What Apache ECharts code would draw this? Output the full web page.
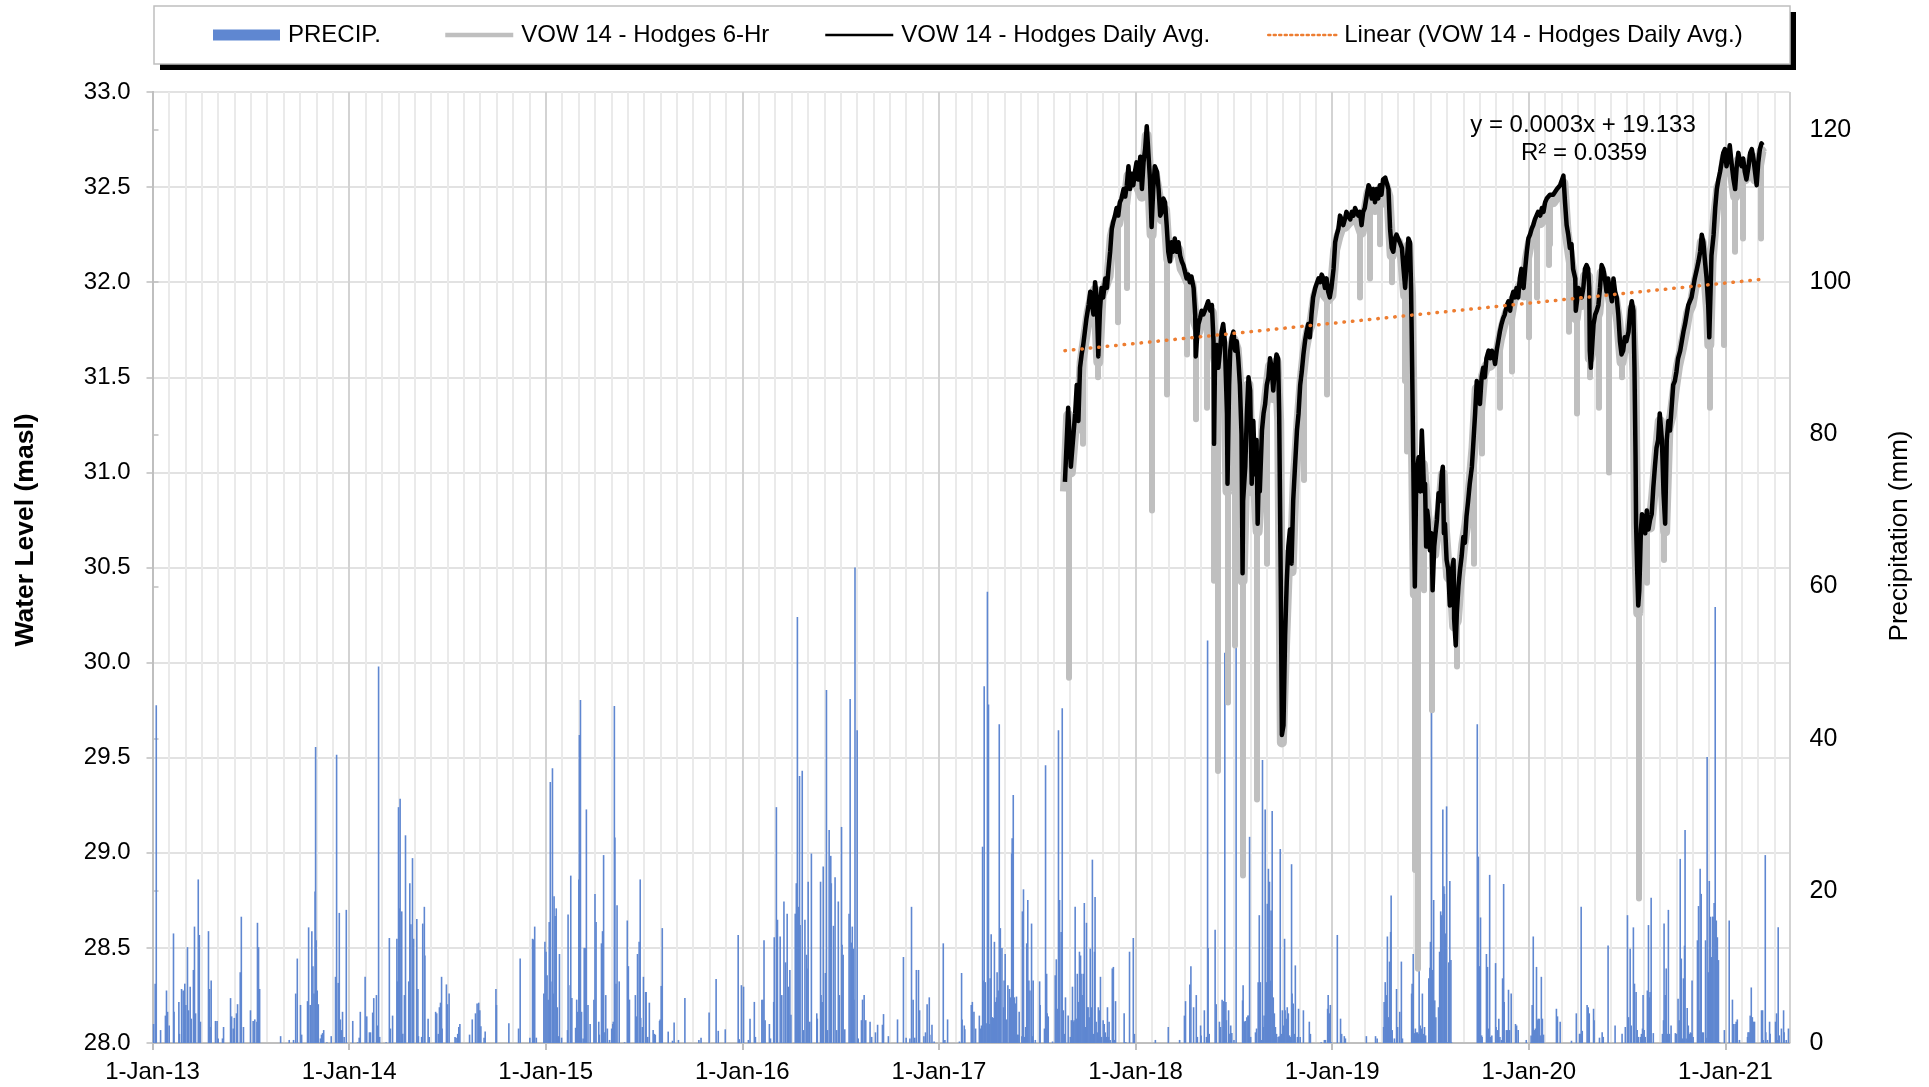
<!DOCTYPE html>
<html><head><meta charset="utf-8">
<script src="https://cdn.jsdelivr.net/npm/echarts@6/dist/echarts.min.js"></script>
<style>html,body{margin:0;padding:0;background:#fff}#c{width:1929px;height:1087px}</style>
</head><body><div id="c"></div>
<script>
// x values are day numbers counted from 1-Jan-2013 (day 0)
const yearLabels = ['1-Jan-13','1-Jan-14','1-Jan-15','1-Jan-16','1-Jan-17','1-Jan-18','1-Jan-19','1-Jan-20','1-Jan-21'];
const dayMax = 3041; // 30-Apr-21

// Daily precipitation (mm): [day, mm]
const precip = [
[2,2.5],[5,7.8],[7,44.4],[15,1.7],[24,3.6],[26,6.9],[28,4.1],[31,2.3],[39,14.4],[40,4.1],[49,5.4],[50,1.2],[54,7.1],[57,6.9],[60,7.8],[62,5.0],[65,12.6],[67,4.3],[70,7.4],[72,3.2],[76,9.6],[78,15.3],[80,3.9],[85,21.5],[87,14.2],[89,2.8],[104,14.7],[106,7.1],[107,2.1],[109,8.2],[117,2.9],[120,2.9],[122,0.6],[130,0.6],[132,2.1],[145,5.9],[147,3.5],[150,1.9],[152,3.3],[156,3.9],[158,5.1],[163,9.3],[165,16.6],[169,2.1],[182,4.3],[187,2.9],[190,3.1],[194,2.8],[195,15.8],[197,12.6],[199,7.1],[238,0.9],[254,0.4],[262,0.4],[266,6.5],[269,11.1],[275,5.0],[277,1.1],[288,5.5],[290,15.2],[293,5.0],[296,14.7],[298,10.1],[300,6.5],[302,19.9],[303,38.9],[304,13.5],[306,6.9],[308,5.1],[312,0.6],[314,1.1],[316,1.3],[318,1.7],[324,0.1],[332,0.9],[340,8.7],[342,37.9],[345,7.9],[347,17.1],[349,3.1],[351,1.7],[353,4.1],[356,0.8],[360,17.5],[372,2.9],[381,0.1],[384,0.7],[386,4.1],[395,8.7],[398,3.5],[403,1.4],[405,1.4],[409,4.0],[411,5.9],[416,6.3],[418,2.3],[420,49.5],[422,0.8],[434,0.1],[440,13.8],[442,1.9],[446,3.6],[454,13.7],[455,8.1],[457,31.0],[459,17.7],[460,32.1],[463,17.3],[465,1.2],[468,6.3],[470,27.3],[476,8.1],[478,21.0],[480,15.6],[483,24.3],[485,13.7],[491,16.3],[493,7.1],[494,0.9],
[500,0.8],[502,15.7],[505,17.9],[506,11.5],[512,3.2],[514,0.8],[526,4.1],[528,3.9],[531,1.2],[533,4.7],[535,5.3],[537,8.7],[538,1.9],[546,7.7],[548,5.1],[551,6.5],[562,0.8],[564,0.7],[567,1.2],[569,2.1],[571,2.5],[589,1.1],[594,3.1],[600,3.9],[603,5.2],[606,5.3],[608,4.3],[610,2.2],[616,0.7],[618,1.5],[638,7.1],[639,5.0],[662,2.6],[680,1.9],[683,11.1],[701,0.7],[706,13.7],[708,13.6],[710,15.3],[713,0.7],[727,6.5],[729,13.3],[731,12.0],[733,8.9],[735,5.7],[737,15.9],[739,34.3],[740,8.1],[743,36.1],[745,6.5],[746,19.3],[748,16.7],[750,17.7],[752,4.7],[754,0.9],[756,11.7],[760,0.7],[771,1.7],[772,16.9],[776,7.6],[777,22.0],[779,5.9],[786,2.0],[788,5.7],[790,4.1],[792,21.5],[793,40.5],[795,45.1],[797,4.1],[800,0.6],[802,12.5],[804,12.5],[806,30.7],[809,5.0],[813,2.5],[820,5.7],[822,19.6],[824,15.9],[829,2.8],[830,1.1],[834,13.1],[836,14.7],[838,24.7],[839,1.4],[842,6.3],[845,1.9],[849,0.4],[853,1.9],[855,2.5],[856,2.8],[858,44.3],[859,27.0],[861,7.8],[863,18.1],[867,8.1],[877,0.1],[882,16.1],[884,10.1],[886,5.7],[897,6.3],[899,3.5],[901,11.7],[904,13.3],[906,21.5],[907,3.3],[910,2.1],[912,8.7],[916,6.7],[917,6.7],[920,0.8],[923,5.3],[930,1.7],[932,1.2],[934,1.1],[942,2.9],[943,3.1],[945,7.5],[947,15.1],[958,1.5],[966,0.3],[969,2.7],[977,0.4],[989,5.9],[1015,0.4],
[1019,0.7],[1034,4.0],[1047,8.4],[1051,1.6],[1064,1.8],[1088,14.2],[1090,0.5],[1094,7.6],[1098,7.4],[1107,0.4],[1110,3.2],[1118,5.4],[1120,0.8],[1132,5.7],[1134,5.7],[1136,13.5],[1138,3.0],[1146,2.5],[1148,0.6],[1154,5.4],[1155,13.9],[1159,31.0],[1161,16.2],[1166,14.0],[1169,6.3],[1173,18.6],[1176,10.6],[1179,17.0],[1181,7.4],[1184,9.6],[1186,3.7],[1194,17.0],[1196,21.0],[1198,56.0],[1200,17.9],[1202,35.1],[1203,15.5],[1207,35.8],[1209,1.7],[1212,16.2],[1215,11.6],[1216,9.8],[1218,21.2],[1221,2.8],[1224,24.9],[1234,3.9],[1235,3.2],[1241,21.2],[1242,6.3],[1244,5.4],[1246,23.2],[1250,9.2],[1252,46.4],[1254,1.7],[1257,28.0],[1260,24.6],[1261,21.0],[1265,15.4],[1268,21.8],[1271,1.7],[1274,18.6],[1276,6.3],[1280,28.4],[1281,12.9],[1283,11.6],[1286,1.8],[1294,17.0],[1296,45.2],[1298,13.2],[1300,15.3],[1302,12.4],[1303,5.7],[1305,62.5],[1309,41.1],[1311,0.6],[1317,3.0],[1319,5.7],[1322,6.3],[1325,3.0],[1333,2.8],[1336,0.8],[1343,1.4],[1347,2.4],[1356,2.4],[1358,3.8],[1367,0.9],[1384,3.1],[1395,11.3],[1400,0.7],[1407,0.6],[1410,17.9],[1413,5.7],[1416,0.7],[1419,9.6],[1423,9.6],[1425,4.3],[1433,0.9],[1436,1.4],[1439,5.1],[1443,6.0],[1444,1.1],[1448,2.4],[1452,0.2],[1469,13.1],[1472,0.4],[1477,3.1],[1499,0.2],
[1503,9.2],[1504,3.1],[1508,2.3],[1509,1.8],[1521,5.0],[1523,5.4],[1526,4.1],[1529,1.9],[1536,3.6],[1538,1.9],[1540,2.3],[1542,25.8],[1543,8.2],[1545,46.9],[1547,8.0],[1550,2.6],[1551,59.3],[1553,44.5],[1555,2.5],[1556,8.5],[1558,14.3],[1560,3.4],[1562,3.3],[1564,13.3],[1566,5.4],[1568,6.0],[1569,9.3],[1571,6.9],[1573,41.9],[1575,15.1],[1578,12.5],[1581,4.7],[1582,8.2],[1584,11.7],[1586,3.1],[1589,7.6],[1592,7.1],[1594,6.0],[1596,24.9],[1597,26.9],[1599,32.6],[1601,6.0],[1603,5.2],[1605,6.1],[1607,1.1],[1608,1.1],[1610,4.1],[1615,0.9],[1616,17.3],[1618,20.2],[1620,0.8],[1622,2.1],[1624,13.1],[1626,18.8],[1628,8.2],[1630,6.9],[1633,15.7],[1635,0.9],[1636,8.2],[1640,0.4],[1648,8.1],[1649,5.0],[1657,1.9],[1659,36.5],[1661,9.1],[1662,3.9],[1664,3.5],[1672,0.2],[1677,8.9],[1679,11.0],[1681,4.5],[1683,41.1],[1685,18.8],[1688,14.6],[1690,44.0],[1692,4.3],[1694,1.2],[1696,6.0],[1701,3.6],[1705,0.8],[1707,3.0],[1709,7.4],[1711,2.8],[1712,3.0],[1714,17.9],[1716,3.2],[1718,9.1],[1720,5.4],[1722,12.0],[1724,11.5],[1725,9.1],[1727,6.3],[1729,9.1],[1731,18.4],[1733,2.1],[1735,15.8],[1737,4.7],[1738,4.7],[1740,3.4],[1742,12.4],[1744,4.7],[1746,24.1],[1748,1.2],[1750,12.0],[1751,19.2],[1753,2.8],[1755,1.4],[1757,4.7],[1759,4.3],[1761,8.7],[1763,0.8],[1766,3.0],[1768,2.5],[1770,1.4],[1772,0.8],[1774,4.7],[1776,0.8],[1777,2.8],[1779,0.4],[1783,9.8],[1785,10.0],[1787,0.4],[1789,5.5],[1805,3.9],[1808,0.1],[1815,12.0],[1822,13.8],[1824,1.2],[1863,0.4],[1887,2.1],[1908,0.4],[1917,3.6],[1919,5.5],[1927,7.7],[1929,10.1],[1934,4.7],[1939,6.3],[1941,0.8],[1947,2.3],[1948,1.0],[1954,4.3],[1958,0.8],[1960,52.9],[1961,12.5],[1963,1.2],[1974,14.9],[1976,5.1],[1982,2.8],[1984,2.1],[1987,5.7],[1990,5.5],[1992,51.3],[1994,5.4],[1995,3.0],[1999,4.3],[2000,1.2],[2003,2.3],[2005,1.3],[2009,0.4],[2013,52.1],
[2025,5.6],[2026,7.6],[2028,2.8],[2030,2.9],[2033,3.4],[2035,3.6],[2036,3.6],[2038,27.1],[2040,0.8],[2049,1.4],[2051,1.9],[2054,8.0],[2056,16.8],[2058,8.0],[2060,0.4],[2062,37.2],[2064,2.1],[2065,3.6],[2067,30.7],[2069,8.0],[2071,18.3],[2073,22.9],[2075,21.2],[2077,8.2],[2078,17.4],[2080,30.5],[2082,6.0],[2084,3.9],[2086,2.1],[2088,1.2],[2091,0.8],[2093,0.9],[2095,25.5],[2097,1.2],[2099,4.3],[2101,2.3],[2103,13.7],[2104,4.3],[2106,3.2],[2108,4.7],[2110,3.9],[2112,1.0],[2114,0.8],[2116,23.5],[2117,6.5],[2119,5.2],[2121,1.2],[2123,10.2],[2127,0.8],[2129,4.5],[2132,0.8],[2138,4.3],[2149,2.8],[2151,1.2],[2171,0.1],[2177,0.4],[2179,0.4],[2183,4.5],[2184,6.3],[2186,3.9],[2188,5.0],[2190,0.1],[2201,14.2],[2207,3.2],[2209,1.2],[2214,0.9],[2216,0.6],[2255,0.9],[2272,0.9],[2275,0.6],[2287,2.1],[2288,5.4],[2290,8.0],[2292,6.3],[2294,14.0],[2296,3.4],[2298,10.7],[2300,14.6],[2301,19.4],[2303,1.7],[2307,0.6],[2311,7.1],[2313,2.1],[2317,4.1],[2320,10.7],[2322,0.6],[2339,6.5],[2340,7.8],[2342,11.7],[2344,1.3],[2346,1.9],[2348,1.4],[2350,1.4],[2352,1.2],[2353,9.5],[2355,2.3],[2357,1.9],[2359,6.5],[2361,1.2],[2363,2.1],[2365,1.0],[2371,8.5],[2373,9.9],[2374,13.3],[2376,43.7],[2378,9.6],[2380,18.8],[2382,5.6],[2384,3.4],[2389,4.7],[2391,12.0],[2393,17.3],[2395,16.8],[2397,30.7],[2399,20.6],[2400,19.6],[2402,14.4],[2404,31.1],[2406,0.1],[2408,10.6],[2410,21.3],[2412,10.9],[2413,0.1],[2461,41.9],[2463,24.5],[2465,10.1],[2467,16.5],[2469,1.0],[2470,0.8],[2478,11.7],[2480,10.0],[2482,1.9],[2484,22.1],[2486,0.8],[2488,1.0],[2495,10.5],[2496,2.1],[2499,1.7],[2501,3.2],[2503,0.8],[2506,0.4],
[2508,8.5],[2510,20.9],[2511,5.4],[2515,1.7],[2517,1.7],[2519,7.0],[2521,1.7],[2524,6.5],[2532,2.5],[2534,2.3],[2537,1.7],[2552,0.4],[2561,1.0],[2563,5.0],[2565,14.0],[2567,1.7],[2569,1.9],[2571,10.0],[2573,3.0],[2574,3.2],[2576,3.2],[2578,1.0],[2580,8.7],[2582,3.2],[2584,1.1],[2608,4.5],[2610,3.5],[2615,2.8],[2636,0.3],[2645,3.9],[2651,1.2],[2652,1.2],[2654,17.9],[2656,1.6],[2665,5.0],[2667,4.7],[2669,3.9],[2677,4.5],[2678,3.0],[2688,0.7],[2693,1.4],[2695,0.8],[2704,12.8],[2717,2.3],[2730,1.2],[2736,2.1],[2740,16.8],[2742,3.4],[2745,12.4],[2747,2.3],[2751,15.2],[2753,7.8],[2756,6.7],[2758,1.7],[2760,0.8],[2764,0.8],[2766,1.2],[2768,1.9],[2769,6.3],[2771,1.7],[2773,0.8],[2777,6.9],[2779,15.5],[2781,6.0],[2782,6.7],[2784,19.1],[2788,1.3],[2805,1.2],[2807,3.0],[2808,15.7],[2810,6.3],[2812,9.8],[2814,1.2],[2816,17.5],[2818,1.2],[2821,2.3],[2829,1.3],[2831,1.2],[2834,5.8],[2836,3.0],[2838,24.2],[2840,11.1],[2842,0.6],[2844,8.5],[2846,12.8],[2847,28.0],[2849,0.6],[2851,4.6],[2853,2.3],[2855,1.2],[2857,1.4],[2859,1.3],[2860,8.2],[2862,0.8],[2870,13.5],[2872,18.0],[2873,4.3],[2875,22.9],[2877,19.6],[2879,1.4],[2881,1.4],[2885,13.5],[2886,0.7],[2888,37.6],[2890,9.3],[2892,21.3],[2894,16.6],[2896,11.3],[2898,16.6],[2899,16.6],[2901,18.4],[2903,57.3],[2905,16.1],[2907,13.9],[2909,10.9],[2911,0.1],[2920,1.7],[2929,16.1],[2935,5.7],[2937,2.5],[2940,2.5],[2942,2.8],[2944,3.1],[2948,0.4],[2963,0.8],[2964,1.4],[2966,1.4],[2968,3.6],[2970,7.3],[2972,3.4],[2974,2.8],[2976,2.8],[2989,4.3],[2991,4.3],[2992,0.4],[2996,24.7],[2997,1.4],[3000,0.4],[3004,2.8],[3005,1.2],[3015,2.8],[3017,3.9],[3018,0.4],[3020,15.2],[3022,1.0],[3026,1.9],[3030,4.3],[3031,1.4],[3035,0.4],[3039,1.9]
];

// VOW 14 - Hodges Daily Avg. water level (masl): [day, level]
const dailyAvg = [
[1695,30.95],[1701,31.34],[1706,31.03],[1714,31.31],[1717,31.46],[1720,31.27],[1723,31.55],[1726,31.62],[1729,31.67],[1732,31.74],[1735,31.81],[1739,31.88],[1742,31.95],[1745,31.96],[1748,31.83],[1751,32.00],[1754,31.92],[1757,31.61],[1760,31.85],[1763,31.97],[1766,31.92],[1770,32.02],[1773,31.97],[1776,32.07],[1779,32.16],[1782,32.28],[1785,32.32],[1788,32.35],[1791,32.39],[1794,32.35],[1797,32.42],[1800,32.44],[1804,32.49],[1807,32.45],[1810,32.51],[1813,32.61],[1816,32.49],[1819,32.57],[1822,32.51],[1825,32.58],[1828,32.63],[1831,32.54],[1835,32.66],[1838,32.49],[1841,32.63],[1844,32.70],[1847,32.82],[1850,32.68],[1853,32.54],[1856,32.29],[1859,32.49],[1862,32.61],[1866,32.58],[1869,32.49],[1872,32.35],[1875,32.37],[1878,32.44],[1881,32.42],[1884,32.30],[1887,32.16],[1890,32.11],[1893,32.21],[1896,32.16],[1899,32.23],[1903,32.16],[1906,32.21],[1909,32.14],[1912,32.11],[1915,32.09],[1918,32.08],[1921,32.02],[1924,32.04],[1927,32.00],[1930,32.03],[1934,31.97],[1937,31.83],[1938,31.61],[1940,31.69],[1943,31.78],[1946,31.81],[1949,31.85],[1952,31.83],[1955,31.85],[1958,31.86],[1961,31.90],[1965,31.85],[1968,31.88],[1971,31.69],[1972,31.15],[1974,31.64],[1977,31.67],[1980,31.55],[1983,31.64],[1986,31.74],[1989,31.78],[1992,31.69],[1996,31.31],[1997,30.94],[2000,31.46],[2002,31.64],[2005,31.71],[2008,31.74],[2011,31.64],[2014,31.69],[2017,31.60],[2020,31.46],[2023,31.20],[2025,30.47],[2026,30.85],[2030,31.03],[2033,31.31],[2036,31.50],[2039,31.43],[2042,30.94],[2045,31.27],[2048,30.99],[2051,31.17],[2053,30.73],[2056,31.08],[2057,30.90],[2061,31.22],[2064,31.31],[2067,31.36],[2070,31.46],[2073,31.50],[2076,31.60],[2079,31.55],[2082,31.43],[2085,31.55],[2088,31.62],[2091,31.60],[2093,31.31],[2096,30.40],[2098,29.62],[2101,29.67],[2104,30.14],[2107,30.42],[2110,30.61],[2113,30.70],[2116,30.52],[2119,30.85],[2122,31.01],[2126,31.22],[2129,31.31],[2132,31.46],
[2135,31.53],[2138,31.62],[2141,31.69],[2144,31.74],[2147,31.78],[2150,31.71],[2153,31.83],[2156,31.92],[2160,31.97],[2163,31.97],[2166,32.02],[2169,32.00],[2172,32.04],[2175,32.02],[2178,31.97],[2181,32.02],[2184,31.95],[2187,31.92],[2190,31.97],[2194,32.07],[2197,32.21],[2200,32.25],[2203,32.28],[2206,32.35],[2209,32.33],[2212,32.30],[2215,32.33],[2218,32.37],[2221,32.35],[2225,32.33],[2228,32.37],[2231,32.35],[2234,32.39],[2237,32.37],[2240,32.35],[2243,32.37],[2246,32.30],[2249,32.37],[2252,32.39],[2256,32.46],[2259,32.51],[2262,32.49],[2265,32.44],[2268,32.49],[2271,32.42],[2274,32.49],[2277,32.44],[2280,32.51],[2283,32.46],[2286,32.54],[2290,32.55],[2293,32.56],[2296,32.49],[2299,32.28],[2302,32.18],[2305,32.16],[2308,32.23],[2311,32.25],[2314,32.25],[2317,32.21],[2321,32.18],[2324,32.07],[2327,31.97],[2330,32.11],[2333,32.23],[2336,32.21],[2338,31.97],[2340,31.55],[2342,31.08],[2344,30.61],[2345,30.40],[2347,30.85],[2348,30.99],[2352,31.08],[2355,30.90],[2358,31.22],[2360,31.08],[2362,30.90],[2364,30.94],[2366,30.61],[2368,30.80],[2370,30.75],[2373,30.59],[2376,30.68],[2378,30.38],[2381,30.61],[2382,30.64],[2386,30.75],[2389,30.89],[2392,30.85],[2395,30.99],[2397,31.03],[2399,30.68],[2401,30.73],[2404,30.54],[2407,30.49],[2410,30.30],[2413,30.47],[2417,30.54],[2418,30.23],[2421,30.09],[2423,30.26],[2426,30.40],[2429,30.49],[2432,30.56],[2435,30.66],[2438,30.63],[2441,30.77],[2444,30.85],[2447,30.94],[2451,31.03],[2454,31.17],[2457,31.31],[2460,31.48],[2463,31.45],[2466,31.36],[2469,31.50],[2472,31.55],[2475,31.50],[2478,31.60],[2482,31.64],[2485,31.60],[2488,31.64],[2491,31.62],[2494,31.57],[2497,31.64],[2500,31.69],[2503,31.74],[2506,31.78],[2509,31.81],[2512,31.83],[2516,31.88],[2519,31.90],[2522,31.85],[2525,31.92],[2528,31.95],[2531,31.92],[2534,31.97],[2537,31.92],[2540,32.02],[2543,32.07],[2547,31.97],[2550,32.07],[2553,32.16],[2556,32.23],[2559,32.25],[2562,32.28],[2565,32.30],[2568,32.33],[2571,32.35],[2574,32.37],[2578,32.35],[2581,32.39],[2584,32.37],[2587,32.42],[2590,32.44],[2593,32.45],
[2596,32.46],[2602,32.46],[2609,32.49],[2615,32.51],[2621,32.56],[2624,32.42],[2627,32.30],[2630,32.25],[2633,32.18],[2636,32.20],[2639,32.07],[2643,32.02],[2644,31.85],[2647,31.92],[2649,31.97],[2652,31.95],[2655,31.92],[2658,31.97],[2661,32.07],[2664,32.09],[2667,32.07],[2669,31.97],[2670,31.64],[2672,31.55],[2675,31.69],[2677,31.78],[2680,31.83],[2683,31.85],[2686,31.88],[2689,31.97],[2692,32.09],[2695,32.07],[2698,32.02],[2701,31.95],[2704,32.02],[2708,31.95],[2711,31.90],[2714,32.02],[2717,31.95],[2720,31.92],[2723,31.83],[2726,31.69],[2729,31.62],[2732,31.64],[2735,31.71],[2738,31.69],[2742,31.74],[2745,31.85],[2748,31.90],[2751,31.85],[2753,31.55],[2755,31.08],[2756,30.73],[2758,30.49],[2760,30.30],[2762,30.38],[2765,30.70],[2767,30.78],[2770,30.73],[2773,30.68],[2776,30.80],[2779,30.70],[2782,30.75],[2785,30.78],[2788,30.92],[2791,31.03],[2794,31.13],[2797,31.17],[2800,31.31],[2804,31.17],[2807,30.89],[2810,30.73],[2813,31.17],[2816,31.27],[2819,31.22],[2822,31.34],[2825,31.46],[2828,31.48],[2831,31.53],[2834,31.60],[2838,31.64],[2841,31.69],[2844,31.74],[2847,31.78],[2850,31.83],[2853,31.88],[2856,31.90],[2859,31.92],[2862,31.97],[2865,32.02],[2869,32.07],[2872,32.11],[2875,32.16],[2878,32.25],[2881,32.21],[2884,32.11],[2887,32.02],[2890,31.88],[2892,31.71],[2895,32.02],[2896,32.14],[2900,32.25],[2903,32.39],[2906,32.49],[2909,32.54],[2912,32.58],[2915,32.58],[2918,32.68],[2921,32.70],[2924,32.61],[2927,32.65],[2930,32.72],[2934,32.61],[2937,32.54],[2940,32.49],[2943,32.61],[2946,32.68],[2949,32.63],[2952,32.61],[2955,32.65],[2958,32.58],[2961,32.54],[2965,32.61],[2968,32.68],[2971,32.70],[2974,32.65],[2977,32.58],[2980,32.51],[2983,32.63],[2986,32.70],[2989,32.73],[2991,32.72]
];

// VOW 14 - Hodges 6-Hr water level (masl), general trace: [day, level]
const sixHr = [
[1695,30.90],[1701,31.30],[1706,31.00],[1714,31.27],[1720,31.23],[1726,31.58],[1732,31.70],[1739,31.84],[1745,31.92],[1751,31.96],[1757,31.58],[1763,31.93],[1770,31.98],[1776,32.03],[1782,32.24],[1788,32.31],[1794,32.31],[1800,32.40],[1807,32.41],[1813,32.56],[1819,32.53],[1825,32.54],[1831,32.50],[1838,32.45],[1844,32.66],[1847,32.77],[1850,32.64],[1856,32.25],[1862,32.57],[1869,32.45],[1875,32.33],[1881,32.38],[1887,32.12],[1893,32.17],[1899,32.19],[1906,32.17],[1912,32.07],[1918,32.04],[1924,32.00],[1930,31.99],[1937,31.79],[1943,31.74],[1949,31.81],[1955,31.81],[1961,31.86],[1968,31.84],[1974,31.60],[1980,31.51],[1986,31.70],[1992,31.65],[1997,30.90],[2002,31.60],[2008,31.70],[2014,31.65],[2020,31.42],[2025,30.43],[2030,30.99],[2036,31.46],[2042,30.90],[2048,30.95],[2053,30.69],[2057,30.86],[2064,31.27],[2070,31.42],[2076,31.56],[2082,31.39],[2088,31.58],[2093,31.27],[2098,29.58],[2104,30.10],[2110,30.57],[2116,30.48],[2122,30.97],[2129,31.27],[2135,31.49],[2141,31.65],[2147,31.74],[2153,31.79],[2160,31.93],[2166,31.98],[2172,32.00],[2178,31.93],[2184,31.91],[2190,31.93],[2197,32.17],[2203,32.24],[2209,32.29],[2215,32.29],[2221,32.31],[2228,32.33],[2234,32.35],[2240,32.31],[2246,32.26],[2252,32.35],[2259,32.47],[2265,32.40],[2271,32.38],[2277,32.40],[2283,32.42],[2290,32.51],[2296,32.45],[2302,32.14],[2308,32.19],[2314,32.21],[2321,32.14],[2327,31.93],[2333,32.19],[2338,31.93],[2342,31.04],[2345,30.36],[2348,30.95],[2355,30.86],[2360,31.04],[2364,30.90],[2370,30.71],[2376,30.64],[2381,30.57],[2386,30.71],[2392,30.81],[2397,30.99],[2401,30.69],[2407,30.45],[2413,30.43],[2418,30.19],[2423,30.22],[2429,30.45],[2435,30.62],[2441,30.73],[2447,30.90],[2454,31.13],[2460,31.44],[2466,31.32],[2472,31.51],[2478,31.56],[2485,31.56],[2491,31.58],[2497,31.60],[2503,31.70],[2509,31.77],[2516,31.84],[2522,31.81],[2528,31.91],[2534,31.93],[2540,31.98],[2547,31.93],[2553,32.12],[2559,32.21],[2565,32.26],[2571,32.31],[2578,32.31],[2584,32.33],[2590,32.40],[2596,32.42],[2602,32.42],[2609,32.45],[2615,32.47],[2621,32.52],[2627,32.26],[2633,32.14],[2639,32.03],[2644,31.81],[2649,31.93],[2655,31.88],[2661,32.03],[2667,32.03],[2670,31.60],[2675,31.65],[2680,31.79],[2686,31.84],[2692,32.05],[2698,31.98],[2704,31.98],[2711,31.86],[2717,31.91],[2723,31.79],[2729,31.58],[2735,31.67],[2742,31.70],[2748,31.86],[2753,31.51],[2756,30.69],[2760,30.26],[2765,30.66],[2770,30.69],[2776,30.76],[2782,30.71],[2788,30.88],[2794,31.09],[2800,31.27],[2807,30.85],[2810,30.69],[2816,31.23],[2822,31.30],[2828,31.44],[2834,31.56],[2841,31.65],[2847,31.74],[2853,31.84],[2859,31.88],[2865,31.98],[2872,32.07],[2878,32.21],[2884,32.07],[2890,31.84],[2892,31.67],[2896,32.10],[2903,32.35],[2909,32.50],[2915,32.54],[2921,32.66],[2927,32.61],[2934,32.57],[2940,32.45],[2946,32.64],[2952,32.57],[2958,32.54],[2965,32.57],[2971,32.66],[2977,32.54],[2983,32.59],[2989,32.69],[2991,32.68]
];

// 6-Hr short drops: [day, level before, lowest 6-Hr level]
const sixHrDrops = [
[1703,31.2,29.92],[1729,31.6,31.15],[1756,31.8,31.50],[1794,32.3,31.79],[1810,32.45,31.97],[1857,32.4,30.80],[1884,32.25,31.41],[1921,32.0,31.62],[1938,31.7,31.28],[1958,31.8,31.34],[1971,31.6,30.43],[1978,31.6,29.43],[1997,31.0,29.79],[2010,31.6,30.09],[2025,30.6,28.88],[2052,30.8,29.28],[2070,31.4,30.52],[2138,31.6,30.96],[2181,32.0,31.41],[2243,32.3,31.92],[2262,32.45,32.02],[2280,32.5,32.20],[2302,32.15,32.0],[2327,31.95,31.48],[2330,32.1,31.11],[2344,30.6,28.91],[2350,31.0,28.39],[2361,31.0,30.38],[2376,30.65,29.75],[2423,30.2,29.98],[2454,31.1,30.52],[2469,31.45,31.10],[2503,31.7,31.34],[2525,31.9,31.53],[2556,32.2,31.71],[2571,32.3,31.92],[2593,32.4,32.09],[2596,32.4,32.20],[2630,32.2,31.74],[2646,31.9,31.31],[2670,31.6,31.50],[2686,31.85,31.34],[2706,31.95,31.00],[2729,31.6,31.50],[2761,30.3,28.76],[2776,30.75,30.42],[2807,30.85,30.54],[2892,31.7,31.34],[2918,32.6,31.67],[2940,32.45,32.16],[2955,32.6,32.23],[2988,32.7,32.23]
];

// Linear trend of daily average (end points)
const trend = [[1695,31.64],[2989,32.015]];
const trendLabel = ['y = 0.0003x + 19.133','R² = 0.0359'];

const FONT = '"Liberation Sans", Arial, sans-serif';
const names = ['PRECIP.','VOW 14 - Hodges 6-Hr','VOW 14 - Hodges Daily Avg.','Linear (VOW 14 - Hodges Daily Avg.)'];

const chart = echarts.init(document.getElementById('c'), null, {renderer:'canvas'});
const legendBase = {top:23, padding:0, itemGap:0, textStyle:{fontSize:24, color:'#000', fontFamily:FONT, padding:[0,0,0,3]}, selectedMode:false};
chart.setOption({
  animation:false,
  backgroundColor:'#fff',
  grid:{left:152.5, right:139.5, top:92, bottom:44},
  legend:[
    Object.assign({}, legendBase, {left:213, data:[{name:names[0], icon:'rect'}], itemWidth:67, itemHeight:11}),
    Object.assign({}, legendBase, {left:443, data:[names[1]], itemWidth:68, itemHeight:14, itemStyle:{opacity:0}, lineStyle:{width:4.5, color:'#bfbfbf'}}),
    Object.assign({}, legendBase, {left:824, data:[names[2]], itemWidth:68, itemHeight:14, itemStyle:{opacity:0}, lineStyle:{width:2.5, color:'#000'}}),
    Object.assign({}, legendBase, {left:1267, data:[names[3]], itemWidth:68, itemHeight:14, itemStyle:{opacity:0}, lineStyle:{width:2.5, color:'#ed7d31', type:[2,3.5]}})
  ],
  graphic:[
    {type:'rect', z:1, shape:{x:160, y:12, width:1636, height:58}, style:{fill:'#000'}},
    {type:'rect', z:2, shape:{x:154, y:6, width:1636, height:58}, style:{fill:'#fff', stroke:'#bfbfbf', lineWidth:1.5}},
    {type:'text', z:10, x:1583, y:125, style:{text:trendLabel[0], font:'24px '+FONT, fill:'#000', textAlign:'center', textVerticalAlign:'middle'}},
    {type:'text', z:10, x:1584, y:153, style:{text:trendLabel[1], font:'24px '+FONT, fill:'#000', textAlign:'center', textVerticalAlign:'middle'}},
    {type:'text', z:10, x:26, y:530, rotation:Math.PI/2, style:{text:'Water Level (masl)', font:'bold 26.5px '+FONT, fill:'#000', textAlign:'center', textVerticalAlign:'middle'}},
    {type:'text', z:10, x:1900, y:536, rotation:Math.PI/2, style:{text:'Precipitation (mm)', font:'26px '+FONT, fill:'#000', textAlign:'center', textVerticalAlign:'middle'}}
  ],
  xAxis:[
    {type:'value', min:0, max:dayMax, interval:365.25/12,
     axisLine:{show:false}, axisTick:{show:false}, axisLabel:{show:false},
     splitLine:{show:true, lineStyle:{color:'#eaeaea', width:2}}},
    {type:'value', min:0, max:dayMax, interval:365.25, position:'bottom',
     axisLine:{show:true, lineStyle:{color:'#bfbfbf', width:2}},
     axisTick:{show:true, length:7, lineStyle:{color:'#bfbfbf', width:2}},
     axisLabel:{fontSize:24, color:'#000', fontFamily:FONT, margin:17, showMaxLabel:false,
       formatter:function(v){const i=Math.round(v/365.25); return Math.abs(v-i*365.25)<1 && yearLabels[i] ? yearLabels[i] : '';}},
     splitLine:{show:true, lineStyle:{color:'#d3d3d3', width:2}}}
  ],
  yAxis:[
    {type:'value', min:28, max:33, interval:0.5,
     axisLine:{show:true, lineStyle:{color:'#bfbfbf', width:2}},
     axisTick:{show:true, length:6, lineStyle:{color:'#bfbfbf', width:1.5}},
     axisLabel:{fontSize:24, color:'#000', fontFamily:FONT, margin:22, formatter:v=>v.toFixed(1)},
     splitLine:{show:true, lineStyle:{color:'#d9d9d9', width:1.5}}},
    {type:'value', min:0, max:125, interval:20, position:'right',
     axisLine:{show:true, lineStyle:{color:'#bfbfbf', width:2}},
     axisTick:{show:true, length:6, lineStyle:{color:'#bfbfbf', width:1.5}},
     axisLabel:{fontSize:25, color:'#000', fontFamily:FONT, margin:20, showMaxLabel:false,
       formatter:v=> (v%20===0 ? String(v) : '')},
     splitLine:{show:false}}
  ],
  series:[
    {name:names[0], type:'bar', xAxisIndex:0, yAxisIndex:1, data:precip, barWidth:1.6, barGap:'-100%',
     itemStyle:{color:'#5f87d1'}, z:1, silent:true},
    {name:names[1], type:'line', xAxisIndex:0, yAxisIndex:0, data:sixHr, symbol:'none', showSymbol:false,
     lineStyle:{color:'#bfbfbf', width:10, join:'round'}, itemStyle:{color:'#bfbfbf'}, z:2, silent:true},
    {name:'6-Hr drops', type:'lines', coordinateSystem:'cartesian2d', xAxisIndex:0, yAxisIndex:0, z:2, silent:true,
     lineStyle:{color:'#bfbfbf', width:6, opacity:1, cap:'round', curveness:0},
     data:sixHrDrops.map(d=>({coords:[[d[0],d[1]],[d[0],d[2]]]}))},
    {name:names[2], type:'line', xAxisIndex:0, yAxisIndex:0, data:dailyAvg, symbol:'none', showSymbol:false,
     lineStyle:{color:'#000', width:4.5, join:'round'}, itemStyle:{color:'#000'}, z:3, silent:true},
    {name:names[3], type:'line', xAxisIndex:0, yAxisIndex:0, data:trend, symbol:'none', showSymbol:false,
     lineStyle:{color:'#ed7d31', width:3.5, type:[0.5,8], cap:'round'}, itemStyle:{color:'#ed7d31'}, z:4, silent:true}
  ]
});
</script></body></html>
